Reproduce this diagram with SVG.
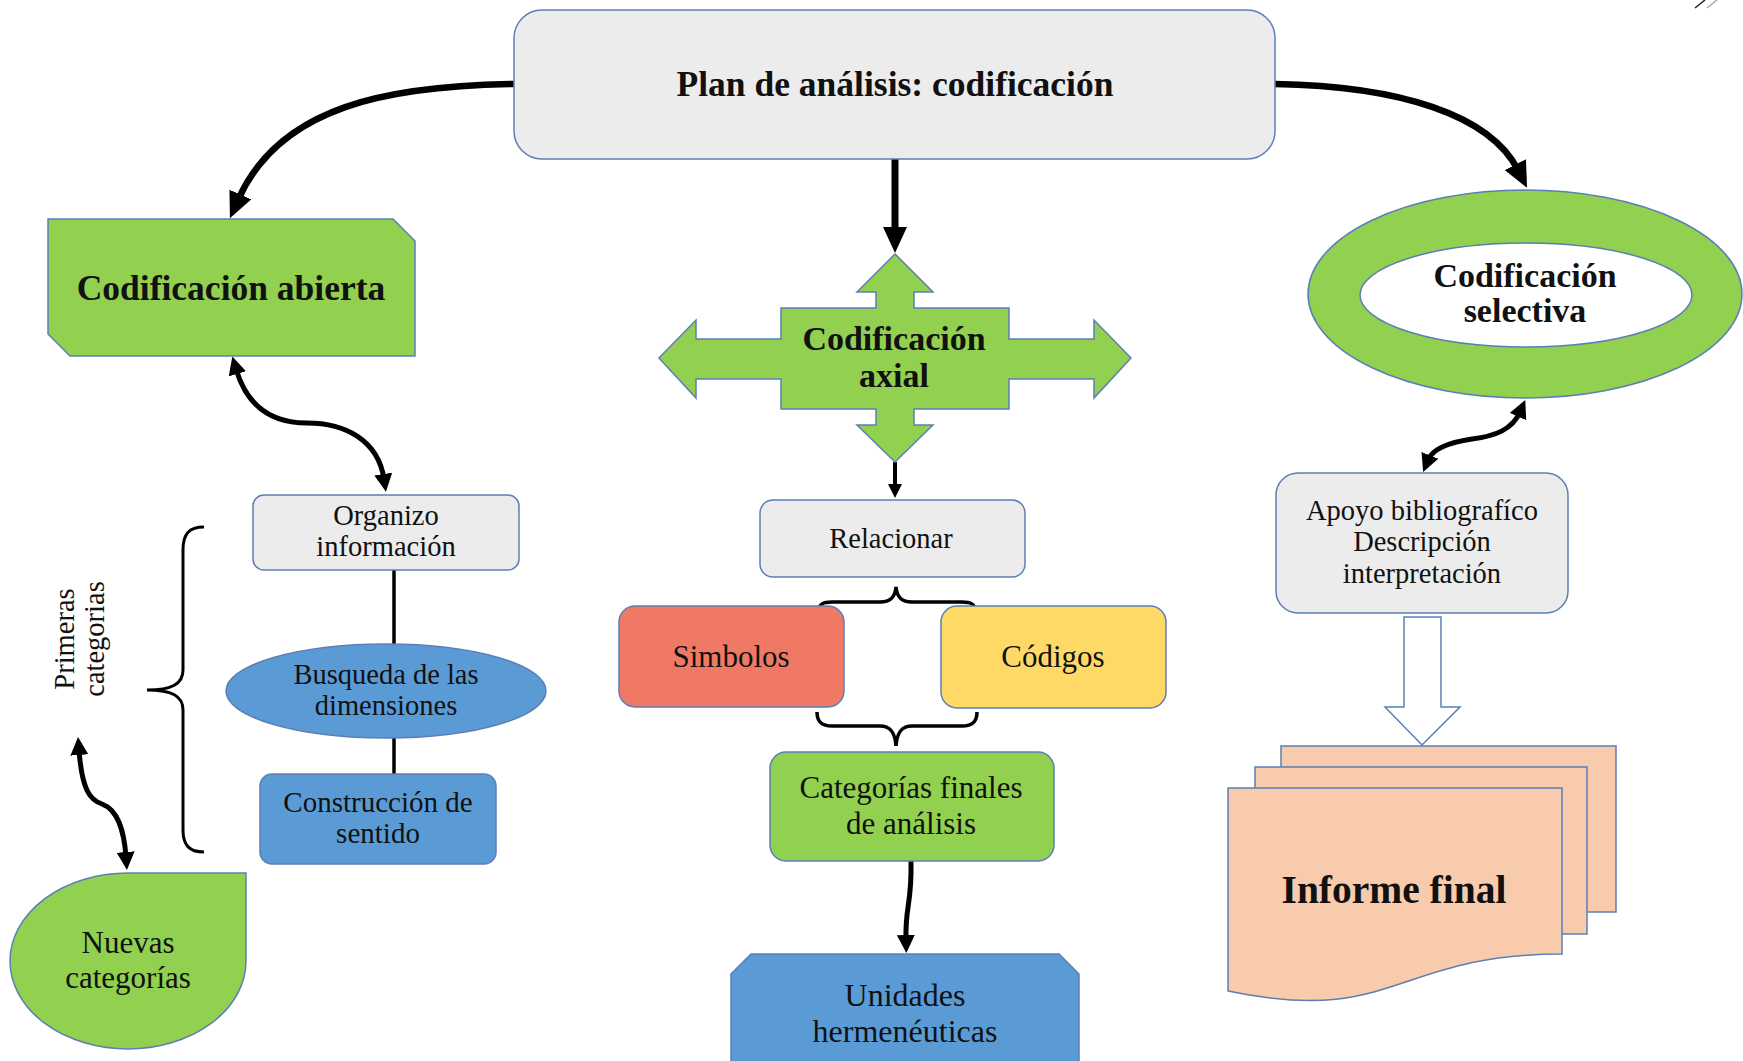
<svg xmlns="http://www.w3.org/2000/svg" width="1743" height="1061" viewBox="0 0 1743 1061">
  <style>
    .txt { font-family: "Liberation Serif", "Times New Roman", serif; fill: #111; text-anchor: middle; }
    .bold { font-weight: bold; }
    .edge { stroke: #5b7fb5; stroke-width: 1.5; }
    .gray { fill: #ececec; }
    .green { fill: #92d050; }
    .blue { fill: #5b9bd5; }
    .conn { fill: none; stroke: #000; stroke-linecap: butt; }
  </style>
  <defs>
    <marker id="headBig" viewBox="0 0 26 26" refX="6" refY="13" markerWidth="26" markerHeight="26" markerUnits="userSpaceOnUse" orient="auto-start-reverse">
      <path d="M0,1 L26,13 L0,25 Z" fill="#000"/>
    </marker>
    <marker id="headSmall" viewBox="0 0 18 18" refX="5" refY="9" markerWidth="18" markerHeight="18" markerUnits="userSpaceOnUse" orient="auto-start-reverse">
      <path d="M0,0 L18,9 L0,18 Z" fill="#000"/>
    </marker>
    <marker id="headTiny" viewBox="0 0 14 14" refX="3" refY="7" markerWidth="14" markerHeight="14" markerUnits="userSpaceOnUse" orient="auto-start-reverse">
      <path d="M0,0 L14,7 L0,14 Z" fill="#000"/>
    </marker>
  </defs>

  <rect width="1743" height="1061" fill="#fff"/>

  <!-- corner mark -->
  <line x1="1695" y1="8" x2="1705" y2="0" stroke="#222" stroke-width="1.5"/>
  <line x1="1707" y1="8" x2="1717" y2="0" stroke="#aaa" stroke-width="1.5"/>

  <!-- connectors -->
  <g id="connectors">
    <path class="conn" d="M514,84 C390,86 280,105 238,200" stroke-width="6.5" marker-end="url(#headBig)"/>
    <path class="conn" d="M1275,84 C1400,86 1490,115 1518,170" stroke-width="6.5" marker-end="url(#headBig)"/>
    <path class="conn" d="M895,159 L895,233" stroke-width="7" marker-end="url(#headBig)"/>
    <path class="conn" d="M236,369 C248,410 275,423 307,423 C345,423 378,440 384,479" stroke-width="5" marker-start="url(#headSmall)" marker-end="url(#headSmall)"/>
    <path class="conn" d="M79,750 C82,790 90,800 102,804 C118,810 124,830 126,857" stroke-width="5" marker-start="url(#headSmall)" marker-end="url(#headSmall)"/>
    <path class="conn" d="M1520,412 C1512,430 1495,436 1472,439 C1445,443 1432,450 1428,460" stroke-width="5" marker-start="url(#headSmall)" marker-end="url(#headSmall)"/>
    <path class="conn" d="M895,462 L895,487" stroke-width="4" marker-end="url(#headTiny)"/>
    <path class="conn" d="M911,861 C912,905 905,905 906,940" stroke-width="5" marker-end="url(#headSmall)"/>
    <!-- plain links in the open coding column -->
    <line class="conn" x1="394" y1="570" x2="394" y2="644" stroke-width="3.5"/>
    <line class="conn" x1="394" y1="738" x2="394" y2="774" stroke-width="3.5"/>
    <!-- braces -->
    <path class="conn" stroke-width="3" d="M204,527 C189,527 183,534 183,550 L183,670 C183,684 172,690 147,690 C172,690 183,696 183,710 L183,830 C183,845 189,852 204,852"/>
    <path class="conn" stroke-width="3.5" d="M819,610 C819,604 823,602 832,602 L880,602 C890,602 895,598 896,587 C897,598 902,602 912,602 L962,602 C971,602 975,604 975,610"/>
    <path class="conn" stroke-width="3.5" d="M817,712 C817,722 822,726 832,726 L880,726 C890,726 895,732 896,746 C897,732 902,726 912,726 L962,726 C972,726 977,722 977,712"/>
  </g>

  <!-- Plan de análisis -->
  <g id="plan">
    <rect class="gray edge" x="514" y="10" width="761" height="149" rx="28"/>
    <text class="txt bold" x="895" y="96" font-size="35.5">Plan de análisis: codificación</text>
  </g>

  <!-- Codificación abierta -->
  <g id="abierta">
    <polygon class="green edge" points="48,219 393,219 415,241 415,356 70,356 48,334"/>
    <text class="txt bold" x="231" y="300" font-size="35.5">Codificación abierta</text>
  </g>

  <!-- Codificación axial -->
  <g id="axial">
    <polygon class="green edge" points="895,254 933,292 914,292 914,308 1009,308 1009,339 1094,339 1094,320 1131,358 1094,398 1094,379 1009,379 1009,409 914,409 914,425 933,425 895,462 857,425 876,425 876,409 781,409 781,379 696,379 696,398 659,358 696,320 696,339 781,339 781,308 876,308 876,292 857,292"/>
    <text class="txt bold" x="894" y="350" font-size="34">Codificación</text>
    <text class="txt bold" x="894" y="387" font-size="34">axial</text>
  </g>

  <!-- Codificación selectiva -->
  <g id="selectiva">
    <ellipse class="green edge" cx="1525" cy="294" rx="217" ry="104"/>
    <ellipse class="edge" fill="#fff" cx="1526" cy="295" rx="166" ry="52"/>
    <text class="txt bold" x="1525" y="287" font-size="34">Codificación</text>
    <text class="txt bold" x="1525" y="322" font-size="34">selectiva</text>
  </g>

  <!-- Organizo información -->
  <g id="organizo">
    <rect class="gray edge" x="253" y="495" width="266" height="75" rx="11"/>
    <text class="txt" x="386" y="525" font-size="28.5">Organizo</text>
    <text class="txt" x="386" y="556" font-size="28.5">información</text>
  </g>

  <!-- Busqueda de las dimensiones -->
  <g id="busqueda">
    <ellipse class="blue edge" cx="386" cy="691" rx="160" ry="47"/>
    <text class="txt" x="386" y="684" font-size="28.5">Busqueda de las</text>
    <text class="txt" x="386" y="715" font-size="28.5">dimensiones</text>
  </g>

  <!-- Construcción de sentido -->
  <g id="construccion">
    <rect class="blue edge" x="260" y="774" width="236" height="90" rx="12"/>
    <text class="txt" x="378" y="812" font-size="29">Construcción de</text>
    <text class="txt" x="378" y="843" font-size="29">sentido</text>
  </g>

  <!-- Primeras categorias -->
  <g id="primeras">
    <text class="txt" transform="translate(74,639) rotate(-90)" font-size="28.5">Primeras</text>
    <text class="txt" transform="translate(104,639) rotate(-90)" font-size="28.5">categorias</text>
  </g>

  <!-- Nuevas categorías -->
  <g id="nuevas">
    <path class="green edge" d="M246,873 L246,961 A118,88 0 0 1 128,1049 A118,88 0 0 1 10,961 A118,88 0 0 1 128,873 Z"/>
    <text class="txt" x="128" y="953" font-size="31">Nuevas</text>
    <text class="txt" x="128" y="988" font-size="31">categorías</text>
  </g>

  <!-- Relacionar -->
  <g id="relacionar">
    <rect class="gray edge" x="760" y="500" width="265" height="77" rx="13"/>
    <text class="txt" x="891" y="548" font-size="28.5">Relacionar</text>
  </g>

  <!-- Simbolos -->
  <g id="simbolos">
    <rect class="edge" fill="#f07966" x="619" y="606" width="225" height="101" rx="16"/>
    <text class="txt" x="731" y="667" font-size="31">Simbolos</text>
  </g>

  <!-- Códigos -->
  <g id="codigos">
    <rect class="edge" fill="#ffd966" x="941" y="606" width="225" height="102" rx="16"/>
    <text class="txt" x="1053" y="667" font-size="31">Códigos</text>
  </g>

  <!-- Categorías finales de análisis -->
  <g id="categorias-finales">
    <rect class="green edge" x="770" y="752" width="284" height="109" rx="16"/>
    <text class="txt" x="911" y="798" font-size="31">Categorías finales</text>
    <text class="txt" x="911" y="834" font-size="31">de análisis</text>
  </g>

  <!-- Unidades hermenéuticas -->
  <g id="unidades">
    <polygon class="blue edge" points="731,974 751,954 1059,954 1079,974 1079,1070 731,1070"/>
    <text class="txt" x="905" y="1006" font-size="32">Unidades</text>
    <text class="txt" x="905" y="1042" font-size="32">hermenéuticas</text>
  </g>

  <!-- Apoyo bibliográfico -->
  <g id="apoyo">
    <rect class="gray edge" x="1276" y="473" width="292" height="140" rx="22"/>
    <text class="txt" x="1422" y="520" font-size="28.5">Apoyo bibliografíco</text>
    <text class="txt" x="1422" y="551" font-size="28.5">Descripción</text>
    <text class="txt" x="1422" y="583" font-size="28.5">interpretación</text>
  </g>

  <!-- hollow block arrow -->
  <g id="block-arrow">
    <polygon class="edge" fill="#fff" points="1404,617 1441,617 1441,707 1460,707 1422,745 1385,707 1404,707"/>
  </g>

  <!-- Informe final -->
  <g id="informe">
    <rect class="edge" fill="#f8cbad" x="1281" y="746" width="335" height="166"/>
    <rect class="edge" fill="#f8cbad" x="1255" y="767" width="332" height="167"/>
    <path class="edge" fill="#f8cbad" d="M1228,788 L1562,788 L1562,954 C1395,954 1395,1026 1228,991 Z"/>
    <text class="txt bold" x="1394" y="903" font-size="39.5">Informe final</text>
  </g>
</svg>
